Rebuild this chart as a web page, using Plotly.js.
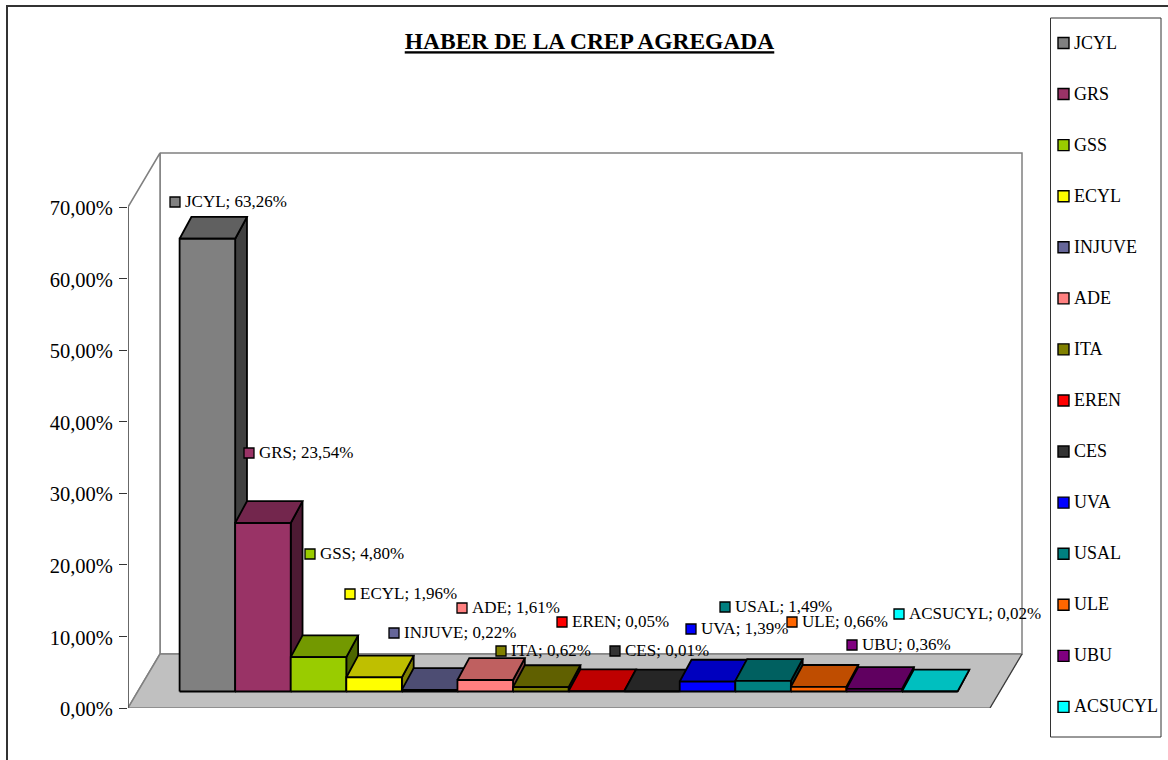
<!DOCTYPE html>
<html>
<head>
<meta charset="utf-8">
<script src="https://cdn.plot.ly/plotly-3.0.1.min.js"></script>
<style>html,body{margin:0;padding:0;background:#fff;overflow:hidden}#chart{width:1168px;height:760px}</style>
</head>
<body>
<div id="chart"></div>
<script>
// ---- data ----
const categories = ['JCYL','GRS','GSS','ECYL','INJUVE','ADE','ITA','EREN','CES','UVA','USAL','ULE','UBU','ACSUCYL'];
const shares = [63.26,23.54,4.80,1.96,0.22,1.61,0.62,0.05,0.01,1.39,1.49,0.66,0.36,0.02];
const colors = ['#808080','#993366','#99cc00','#ffff00','#666699','#ff8080','#808000','#ff0000','#333333','#0000ff','#008080','#ff6600','#800080','#00ffff'];
const axisTicks = [0,10,20,30,40,50,60,70];

// ---- layout constants (pixel geometry of the oblique projection) ----
const W = 1168, H = 760, L = 128, B = 708;
const PX_PER_PCT = 7.157, PX_PER_BAR = 55.57, BAR0 = 179.6, BASE = 691.5;
const labelPx = [[175,202],[249,453],[310,554],[350,594],[394,633],[462,608],[501,651],[562,622],[615,651],[691,629],[725,607],[792,622],[852,645],[899,614]];
const legendX = 1063.5, legendY0 = 43, legendStep = 51.07;
const labelTextGap = 10, legendTextGap = 10.5, textDrop = 1;

const X = px => (px - BAR0) / PX_PER_BAR;
const Y = py => (B - py) / PX_PER_PCT;
const dX = 11.8 / PX_PER_BAR, dY = 21.8 / PX_PER_PCT;
const yBase = Y(BASE);
const SERIF = '"Liberation Serif","Times New Roman",serif';

function shade(hex, k){
  const n = parseInt(hex.slice(1),16);
  const c = [n>>16,(n>>8)&255,n&255].map(v=>Math.round(v*k));
  return 'rgb('+c.join(',')+')';
}
function poly(xs, ys, fill, line, lw){
  return {type:'scatter',mode:'lines',x:xs.concat(xs[0]),y:ys.concat(ys[0]),fill:'toself',fillcolor:fill,
    line:{color:line,width:lw},hoverinfo:'skip',showlegend:false,cliponaxis:false};
}
function seg(pxs, pys, color, w){
  return {type:'scatter',mode:'lines',x:pxs.map(X),y:pys.map(Y),line:{color:color,width:w},hoverinfo:'skip',showlegend:false,cliponaxis:false};
}
const traces = [];
// back wall, side wall, floor
traces.push(poly([160,1022,1022,160].map(X),[153,153,654,654].map(Y),'#ffffff','#808080',1.5));
traces.push(poly([128,160,160,128].map(X),[207,153,654,708].map(Y),'#ffffff','#808080',1.5));
traces.push(poly([128,160,1022,990].map(X),[708,654,654,708].map(Y),'#c0c0c0','#808080',1.5));
traces.push(seg([990,1022],[708,654],'#333333',1));
// y axis line
traces.push(seg([L,L],[708,207],'#333333',1));

// bars, left to right so each one hides the side of its neighbour
categories.forEach((name,i)=>{
  const l=i, r=i+1, b=yBase, t=yBase+shares[i], c=colors[i];
  traces.push(Object.assign(poly([r,r+dX,r+dX,r],[b,b+dY,t+dY,t],shade(c,0.5),'#000000',1.8),{name:name+' side'}));
  traces.push(Object.assign(poly([l,l+dX,r+dX,r],[t,t+dY,t+dY,t],shade(c,0.75),'#000000',1.8),{name:name+' top'}));
  traces.push(Object.assign(poly([l,r,r,l],[b,b,t,t],c,'#000000',1.8),{name:name}));
});

// data labels
const labelValues = categories.map((c,i)=>c+'; '+shares[i].toFixed(2).replace('.',',')+'%');
traces.push({type:'scatter',mode:'markers',
  x:labelPx.map(p=>X(p[0])),y:labelPx.map(p=>Y(p[1])),
  marker:{symbol:'square',size:10,color:colors,line:{color:'#000',width:1.3}},
  hoverinfo:'skip',showlegend:false,cliponaxis:false});
traces.push({type:'scatter',mode:'text',
  x:labelPx.map(p=>X(p[0]+labelTextGap)),y:labelPx.map(p=>Y(p[1]+textDrop)),
  text:labelValues,
  textposition:'middle right',textfont:{family:SERIF,size:17,color:'#000'},
  hoverinfo:'skip',showlegend:false,cliponaxis:false});

// legend column
traces.push({type:'scatter',mode:'markers',
  x:categories.map(()=>X(legendX)),y:categories.map((c,i)=>Y(legendY0+i*legendStep)),
  marker:{symbol:'square',size:11,color:colors,line:{color:'#000',width:1.4}},
  hoverinfo:'skip',showlegend:false,cliponaxis:false});
traces.push({type:'scatter',mode:'text',
  x:categories.map(()=>X(legendX+legendTextGap)),y:categories.map((c,i)=>Y(legendY0+i*legendStep+textDrop)),
  text:categories,textposition:'middle right',textfont:{family:SERIF,size:18,color:'#000'},
  hoverinfo:'skip',showlegend:false,cliponaxis:false});

const layout = {
  width:W,height:H,autosize:false,showlegend:false,
  paper_bgcolor:'#ffffff',plot_bgcolor:'rgba(0,0,0,0)',
  margin:{l:L,r:0,t:0,b:H-B,pad:0},
  title:{text:'<b><u>HABER DE LA CREP AGREGADA</u></b>',font:{family:SERIF,size:23.5,color:'#000'},
    x:589.5/W,xref:'container',xanchor:'center',y:1-41/H,yref:'container',yanchor:'middle'},
  xaxis:{range:[X(L),X(W)],showgrid:false,zeroline:false,showticklabels:false,ticks:'',showline:false,fixedrange:true},
  yaxis:{range:[0,B/PX_PER_PCT],tickmode:'array',tickvals:axisTicks,
    ticktext:axisTicks.map(v=>v.toFixed(2).replace('.',',')+'%'),
    tickfont:{family:SERIF,size:20.5,color:'#000'},ticks:'outside',ticklen:8,tickwidth:1,tickcolor:'#333333',
    ticklabelstandoff:2,ticklabelshift:1,
    showgrid:false,zeroline:false,showline:false,fixedrange:true},
  shapes:[
    {type:'rect',xref:'paper',yref:'paper',layer:'below',x0:(7-L)/(W-L),x1:(1300-L)/(W-L),y0:(B-800)/B,y1:(B-6)/B,line:{color:'#333333',width:2},fillcolor:'rgba(0,0,0,0)'},
    {type:'rect',xref:'paper',yref:'paper',layer:'below',x0:(1050.5-L)/(W-L),x1:(1161-L)/(W-L),y0:(B-737)/B,y1:(B-18)/B,line:{color:'#333333',width:1},fillcolor:'#ffffff'}
  ]
};
Plotly.newPlot('chart',traces,layout,{displayModeBar:false,staticPlot:true});
</script>
</body>
</html>
